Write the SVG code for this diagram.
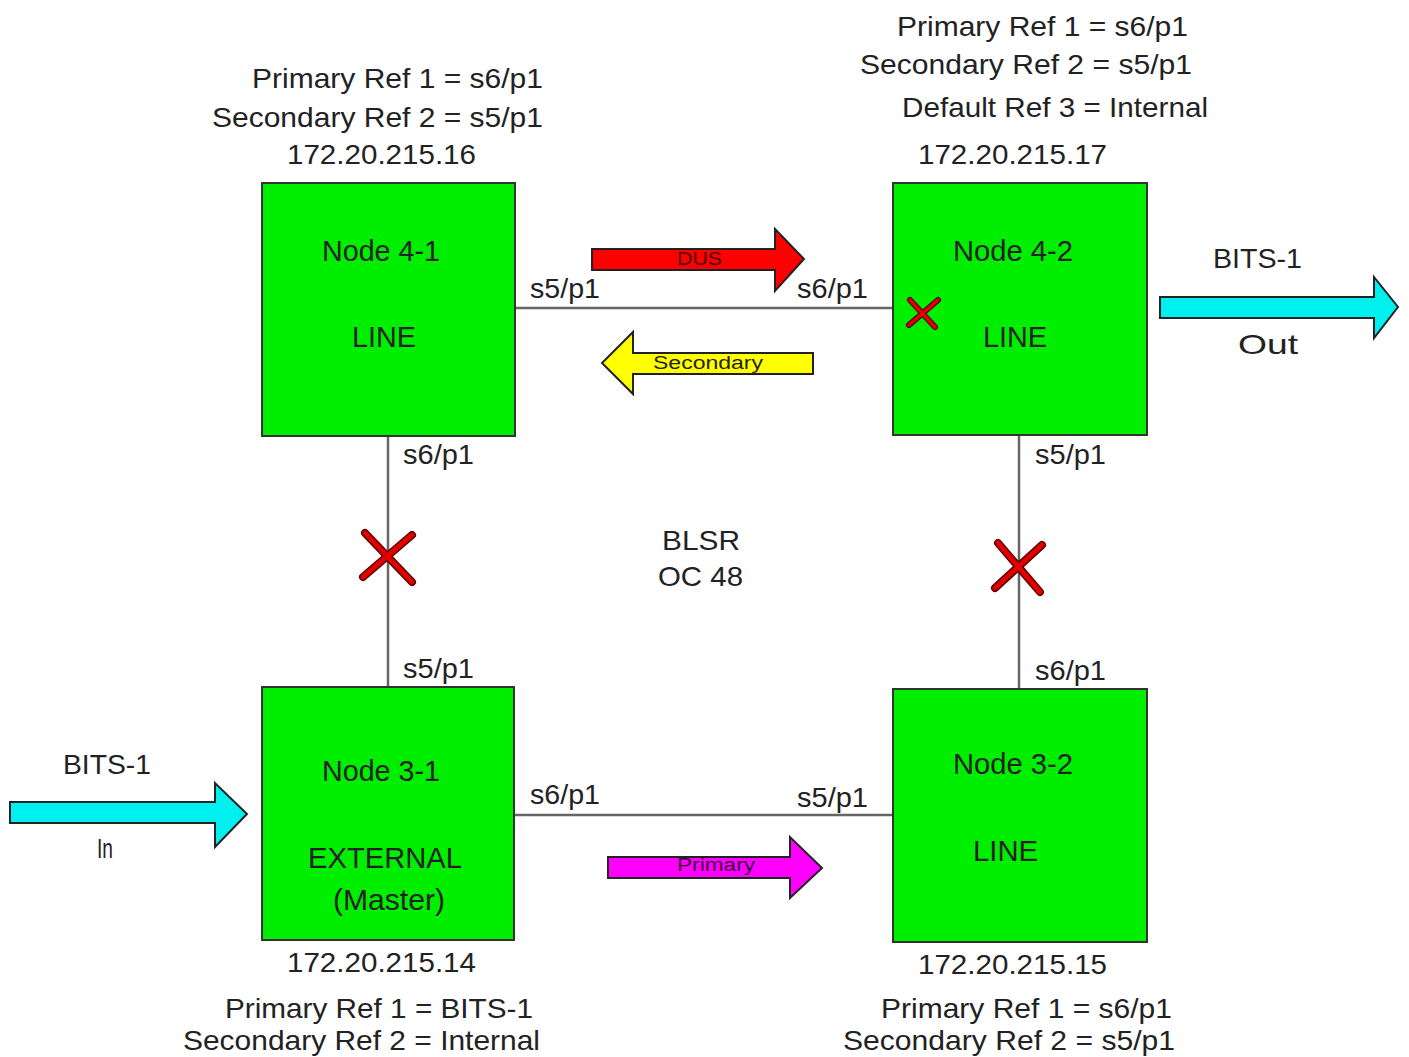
<svg xmlns="http://www.w3.org/2000/svg" width="1409" height="1057" viewBox="0 0 1409 1057">
<style>
text{font-family:"Liberation Sans",Arial,sans-serif;fill:#222;}
.t{font-size:28px;}
.n{font-size:30px;}
.s{font-size:18px;}
.box{fill:#00ee00;stroke:#333;stroke-width:2;}
.ln{stroke:#666;stroke-width:2.5;fill:none;}
.arr{stroke:#222;stroke-width:2;stroke-linejoin:miter;}
.xo{stroke:#5a0000;stroke-width:8;stroke-linecap:round;}
.xi{stroke:#e00000;stroke-width:5;stroke-linecap:round;}
</style>
<rect width="1409" height="1057" fill="#fff"/>
<g id="connectors">
<line class="ln" x1="515" y1="308" x2="893" y2="308"/>
<line class="ln" x1="514" y1="815" x2="893" y2="815"/>
<line class="ln" x1="388" y1="436" x2="388" y2="687"/>
<line class="ln" x1="1019" y1="435" x2="1019" y2="689"/>
</g>
<g id="node41">
<rect class="box" x="262" y="183" width="253" height="253"/>
<text class="n" x="322" y="261" textLength="118" lengthAdjust="spacingAndGlyphs">Node 4-1</text>
<text class="n" x="352" y="347" textLength="64" lengthAdjust="spacingAndGlyphs">LINE</text>
</g>
<g id="node42">
<rect class="box" x="893" y="183" width="254" height="252"/>
<text class="n" x="953" y="261" textLength="120" lengthAdjust="spacingAndGlyphs">Node 4-2</text>
<text class="n" x="983" y="347" textLength="64" lengthAdjust="spacingAndGlyphs">LINE</text>
</g>
<g id="node31">
<rect class="box" x="262" y="687" width="252" height="253"/>
<text class="n" x="322" y="781" textLength="118" lengthAdjust="spacingAndGlyphs">Node 3-1</text>
<text class="n" x="308" y="868" textLength="154" lengthAdjust="spacingAndGlyphs">EXTERNAL</text>
<text class="n" x="333" y="910" textLength="112" lengthAdjust="spacingAndGlyphs">(Master)</text>
</g>
<g id="node32">
<rect class="box" x="893" y="689" width="254" height="253"/>
<text class="n" x="953" y="774" textLength="120" lengthAdjust="spacingAndGlyphs">Node 3-2</text>
<text class="n" x="973" y="861" textLength="65" lengthAdjust="spacingAndGlyphs">LINE</text>
</g>
<g id="port-labels">
<text class="t" x="530" y="298" textLength="70" lengthAdjust="spacingAndGlyphs">s5/p1</text>
<text class="t" x="797" y="298" textLength="71" lengthAdjust="spacingAndGlyphs">s6/p1</text>
<text class="t" x="403" y="464" textLength="71" lengthAdjust="spacingAndGlyphs">s6/p1</text>
<text class="t" x="1035" y="464" textLength="71" lengthAdjust="spacingAndGlyphs">s5/p1</text>
<text class="t" x="403" y="678" textLength="71" lengthAdjust="spacingAndGlyphs">s5/p1</text>
<text class="t" x="1035" y="680" textLength="71" lengthAdjust="spacingAndGlyphs">s6/p1</text>
<text class="t" x="530" y="804" textLength="70" lengthAdjust="spacingAndGlyphs">s6/p1</text>
<text class="t" x="797" y="807" textLength="71" lengthAdjust="spacingAndGlyphs">s5/p1</text>
</g>
<g id="ring-label">
<text class="t" x="662" y="550" textLength="78" lengthAdjust="spacingAndGlyphs">BLSR</text>
<text class="t" x="658" y="586" textLength="85" lengthAdjust="spacingAndGlyphs">OC 48</text>
</g>
<g id="info-41">
<text class="t" x="252" y="88" textLength="291" lengthAdjust="spacingAndGlyphs">Primary Ref 1 = s6/p1</text>
<text class="t" x="212" y="127" textLength="331" lengthAdjust="spacingAndGlyphs">Secondary Ref 2 = s5/p1</text>
<text class="t" x="287" y="164" textLength="189" lengthAdjust="spacingAndGlyphs">172.20.215.16</text>
</g>
<g id="info-42">
<text class="t" x="897" y="36" textLength="291" lengthAdjust="spacingAndGlyphs">Primary Ref 1 = s6/p1</text>
<text class="t" x="860" y="74" textLength="332" lengthAdjust="spacingAndGlyphs">Secondary Ref 2 = s5/p1</text>
<text class="t" x="902" y="117" textLength="306" lengthAdjust="spacingAndGlyphs">Default Ref 3 = Internal</text>
<text class="t" x="918" y="164" textLength="189" lengthAdjust="spacingAndGlyphs">172.20.215.17</text>
</g>
<g id="info-31">
<text class="t" x="287" y="972" textLength="189" lengthAdjust="spacingAndGlyphs">172.20.215.14</text>
<text class="t" x="225" y="1018" textLength="308" lengthAdjust="spacingAndGlyphs">Primary Ref 1 = BITS-1</text>
<text class="t" x="183" y="1050" textLength="357" lengthAdjust="spacingAndGlyphs">Secondary Ref 2 = Internal</text>
</g>
<g id="info-32">
<text class="t" x="918" y="974" textLength="189" lengthAdjust="spacingAndGlyphs">172.20.215.15</text>
<text class="t" x="881" y="1018" textLength="291" lengthAdjust="spacingAndGlyphs">Primary Ref 1 = s6/p1</text>
<text class="t" x="843" y="1050" textLength="332" lengthAdjust="spacingAndGlyphs">Secondary Ref 2 = s5/p1</text>
</g>
<g id="arrow-dus">
<polygon class="arr" fill="#ff0000" points="592,249 775,249 775,229 804,259 775,291 775,270 592,270"/>
<text class="s" x="677" y="265" textLength="45" lengthAdjust="spacingAndGlyphs" style="fill:#4a0000">DUS</text>
</g>
<g id="arrow-secondary">
<polygon class="arr" fill="#ffff00" points="813,353 633,353 633,332 602,363 633,394 633,374 813,374"/>
<text class="s" x="653" y="369" textLength="110" lengthAdjust="spacingAndGlyphs">Secondary</text>
</g>
<g id="arrow-primary">
<polygon class="arr" fill="#ff00ff" points="608,857 790,857 790,837 822,868 790,898 790,878 608,878"/>
<text class="s" x="677" y="871" textLength="78" lengthAdjust="spacingAndGlyphs" style="fill:#3a003a">Primary</text>
</g>
<g id="bits-out">
<polygon class="arr" fill="#00f0f0" points="1160,297 1374,297 1374,277 1398,307 1374,338 1374,318 1160,318"/>
<text class="t" x="1213" y="268" textLength="89" lengthAdjust="spacingAndGlyphs">BITS-1</text>
<text class="t" x="1238" y="354" textLength="60" lengthAdjust="spacingAndGlyphs">Out</text>
</g>
<g id="bits-in">
<polygon class="arr" fill="#00f0f0" points="10,802 215,802 215,783 247,814 215,847 215,823 10,823"/>
<text class="t" x="63" y="774" textLength="88" lengthAdjust="spacingAndGlyphs">BITS-1</text>
<text class="t" x="97" y="858" textLength="16" lengthAdjust="spacingAndGlyphs">In</text>
</g>
<g id="failures">
<line class="xo" x1="365" y1="533" x2="412" y2="582"/>
<line class="xo" x1="412" y1="535" x2="363" y2="577"/>
<line class="xi" x1="365" y1="533" x2="412" y2="582"/>
<line class="xi" x1="412" y1="535" x2="363" y2="577"/>
<line class="xo" x1="998" y1="543" x2="1040" y2="592"/>
<line class="xo" x1="1042" y1="545" x2="995" y2="588"/>
<line class="xi" x1="998" y1="543" x2="1040" y2="592"/>
<line class="xi" x1="1042" y1="545" x2="995" y2="588"/>
<line class="xo" x1="910" y1="300" x2="935" y2="327" style="stroke-width:6"/>
<line class="xo" x1="938" y1="300" x2="909" y2="325" style="stroke-width:6"/>
<line class="xi" x1="910" y1="300" x2="935" y2="327" style="stroke-width:3.5"/>
<line class="xi" x1="938" y1="300" x2="909" y2="325" style="stroke-width:3.5"/>
</g>
</svg>
